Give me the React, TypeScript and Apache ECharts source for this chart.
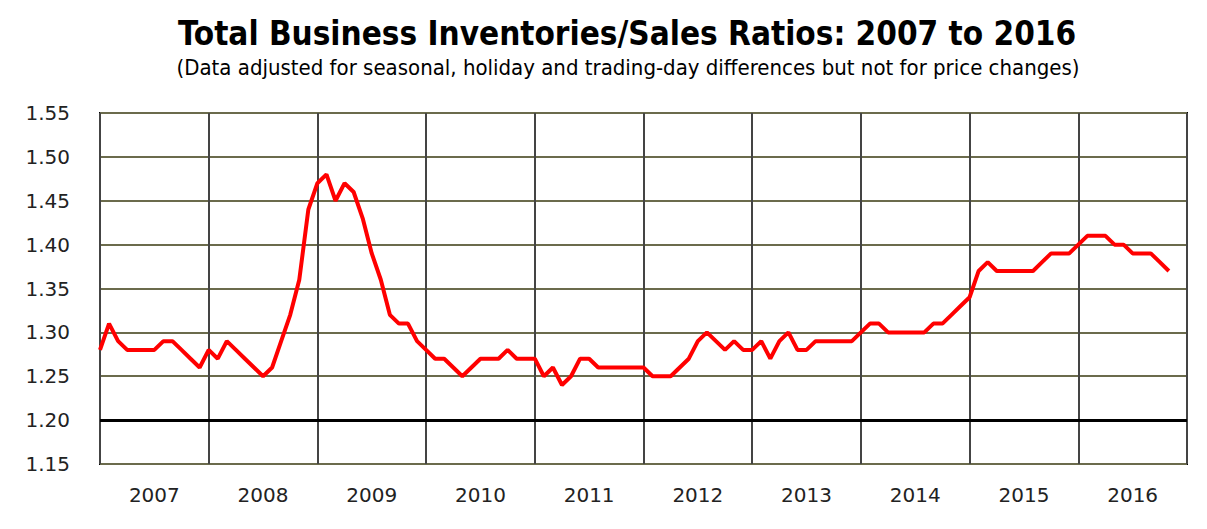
import React, { useEffect, useRef } from "react";
import * as echarts from "echarts";

const TITLE = "Total Business Inventories/Sales Ratios: 2007 to 2016";
const SUBTITLE = "(Data adjusted for seasonal, holiday and trading-day differences but not for price changes)";

const years = ["2007", "2008", "2009", "2010", "2011", "2012", "2013", "2014", "2015", "2016"];

// Monthly ratios, Jan 2007 .. Nov 2016
const ratios2007 = [1.28, 1.31, 1.29, 1.28, 1.28, 1.28, 1.28, 1.29, 1.29, 1.28, 1.27, 1.26];
const ratios2008 = [1.28, 1.27, 1.29, 1.28, 1.27, 1.26, 1.25, 1.26, 1.29, 1.32, 1.36, 1.44];
const ratios2009 = [1.47, 1.48, 1.45, 1.47, 1.46, 1.43, 1.39, 1.36, 1.32, 1.31, 1.31, 1.29];
const ratios2010 = [1.28, 1.27, 1.27, 1.26, 1.25, 1.26, 1.27, 1.27, 1.27, 1.28, 1.27, 1.27];
const ratios2011 = [1.27, 1.25, 1.26, 1.24, 1.25, 1.27, 1.27, 1.26, 1.26, 1.26, 1.26, 1.26];
const ratios2012 = [1.26, 1.25, 1.25, 1.25, 1.26, 1.27, 1.29, 1.30, 1.29, 1.28, 1.29, 1.28];
const ratios2013 = [1.28, 1.29, 1.27, 1.29, 1.30, 1.28, 1.28, 1.29, 1.29, 1.29, 1.29, 1.29];
const ratios2014 = [1.30, 1.31, 1.31, 1.30, 1.30, 1.30, 1.30, 1.30, 1.31, 1.31, 1.32, 1.33];
const ratios2015 = [1.34, 1.37, 1.38, 1.37, 1.37, 1.37, 1.37, 1.37, 1.38, 1.39, 1.39, 1.39];
const ratios2016 = [1.40, 1.41, 1.41, 1.41, 1.40, 1.40, 1.39, 1.39, 1.39, 1.38, 1.37];

const yTicks = { min: 1.15, max: 1.55, step: 0.05 };

export default function App() {
  const ref = useRef<HTMLDivElement>(null);
  useEffect(() => {
    if (!ref.current) return;
    const chart = echarts.init(ref.current, null, { renderer: "svg" });
    const all = [
      ...ratios2007, ...ratios2008, ...ratios2009, ...ratios2010, ...ratios2011,
      ...ratios2012, ...ratios2013, ...ratios2014, ...ratios2015, ...ratios2016,
    ];
    const data = all.map((v, i) => [i, v]);
    const font = "'DejaVu Sans', Verdana, sans-serif";
    chart.setOption({
      animation: false,
      backgroundColor: "#ffffff",
      graphic: [
        {
          type: "text",
          x: 627,
          y: 33,
          style: {
            text: TITLE,
            textAlign: "center",
            textVerticalAlign: "middle",
            fontFamily: "'DejaVu Sans Condensed', 'DejaVu Sans', sans-serif",
            fontSize: 33,
            fontWeight: "bold",
            fill: "#000",
          },
        },
        {
          type: "text",
          x: 628,
          y: 67,
          style: {
            text: SUBTITLE,
            textAlign: "center",
            textVerticalAlign: "middle",
            fontFamily: "'DejaVu Sans Condensed', 'DejaVu Sans', sans-serif",
            fontSize: 22,
            fill: "#000",
          },
        },
      ],
      grid: {
        left: 100, right: 20, top: 113, bottom: 65,
        show: true, borderColor: "#000", borderWidth: 2, backgroundColor: "transparent",
      },
      xAxis: [
        {
          type: "category",
          data: years,
          boundaryGap: true,
          position: "bottom",
          axisLine: { show: false },
          axisTick: { show: false },
          axisLabel: { fontFamily: font, fontSize: 20, color: "#222", margin: 21 },
          splitLine: { show: true, lineStyle: { color: "#444", width: 2 } },
        },
        {
          type: "value",
          min: 0,
          max: 120,
          show: false,
          splitLine: { show: false },
        },
      ],
      yAxis: {
        type: "value",
        min: yTicks.min,
        max: yTicks.max,
        interval: yTicks.step,
        axisLine: { show: false },
        axisTick: { show: false },
        axisLabel: {
          fontFamily: font, fontSize: 20, color: "#222", margin: 30,
          formatter: (v: number) => v.toFixed(2),
        },
        splitLine: { show: true, lineStyle: { color: "#6b6b4c", width: 2 } },
      },
      series: [
        {
          type: "line",
          xAxisIndex: 1,
          data,
          showSymbol: false,
          symbol: "none",
          lineStyle: { color: "#ff0000", width: 4 },
          z: 5,
          markLine: {
            silent: true,
            symbol: "none",
            label: { show: false },
            lineStyle: { color: "#000", width: 3, type: "solid" },
            data: [{ yAxis: 1.2 }],
            z: 3,
          },
        },
      ],
    });
    return () => chart.dispose();
  }, []);
  return <div ref={ref} style={{ position: "fixed", left: 0, top: 0, width: 1207, height: 529 }} />;
}
